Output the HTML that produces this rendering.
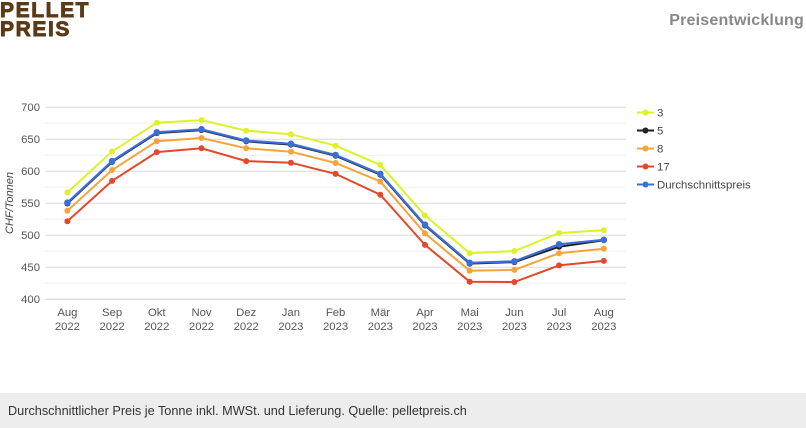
<!DOCTYPE html>
<html><head><meta charset="utf-8"><style>
html,body{margin:0;padding:0;width:806px;height:428px;overflow:hidden;background:#fff;font-family:"Liberation Sans",Arial,sans-serif;}
.logo{position:absolute;left:0;color:#5b3a17;font-weight:bold;font-size:21px;line-height:21px;letter-spacing:1.6px;-webkit-text-stroke:0.9px #5b3a17;}
.title{position:absolute;right:2px;top:12px;color:#888;font-weight:bold;font-size:16px;letter-spacing:0.2px;}
.footer{position:absolute;left:0;top:393px;width:806px;height:35px;background:#ededed;}
.footer span{position:absolute;left:8px;top:11px;font-size:12.7px;color:#333;}
svg{position:absolute;left:0;top:0;}
</style></head><body>
<div class="logo" style="top:-0.5px">PELLET</div>
<div class="logo" style="top:19px">PREIS</div>
<div class="title">Preisentwicklung</div>
<svg width="806" height="393" viewBox="0 0 806 393" font-family="Liberation Sans, Arial, sans-serif">
<g stroke="#efefef" stroke-width="1">
<line x1="45" x2="626" y1="123.3" y2="123.3"/><line x1="45" x2="626" y1="155.3" y2="155.3"/>
<line x1="45" x2="626" y1="187.3" y2="187.3"/><line x1="45" x2="626" y1="219.3" y2="219.3"/>
<line x1="45" x2="626" y1="251.3" y2="251.3"/><line x1="45" x2="626" y1="283.3" y2="283.3"/>
</g>
<g stroke="#dcdcdc" stroke-width="1">
<line x1="45" x2="626" y1="107.3" y2="107.3"/><line x1="45" x2="626" y1="139.3" y2="139.3"/>
<line x1="45" x2="626" y1="171.3" y2="171.3"/><line x1="45" x2="626" y1="203.3" y2="203.3"/>
<line x1="45" x2="626" y1="235.3" y2="235.3"/><line x1="45" x2="626" y1="267.3" y2="267.3"/>
<line x1="45" x2="626" y1="299.3" y2="299.3" stroke="#cfcfcf"/>
</g>
<g font-size="11.3" fill="#555" text-anchor="end">
<text x="40" y="111">700</text><text x="40" y="143">650</text><text x="40" y="175">600</text>
<text x="40" y="207">550</text><text x="40" y="239">500</text><text x="40" y="271">450</text><text x="40" y="303">400</text>
</g>
<text transform="translate(13,203) rotate(-90)" font-size="11" font-style="italic" fill="#444" text-anchor="middle">CHF/Tonnen</text>
<g font-size="11.3" fill="#555" text-anchor="middle">
<text x="67.4" y="316">Aug</text><text x="67.4" y="330">2022</text>
<text x="112.1" y="316">Sep</text><text x="112.1" y="330">2022</text>
<text x="156.8" y="316">Okt</text><text x="156.8" y="330">2022</text>
<text x="201.5" y="316">Nov</text><text x="201.5" y="330">2022</text>
<text x="246.2" y="316">Dez</text><text x="246.2" y="330">2022</text>
<text x="290.9" y="316">Jan</text><text x="290.9" y="330">2023</text>
<text x="335.6" y="316">Feb</text><text x="335.6" y="330">2023</text>
<text x="380.3" y="316">Mär</text><text x="380.3" y="330">2023</text>
<text x="425" y="316">Apr</text><text x="425" y="330">2023</text>
<text x="469.7" y="316">Mai</text><text x="469.7" y="330">2023</text>
<text x="514.4" y="316">Jun</text><text x="514.4" y="330">2023</text>
<text x="559.1" y="316">Jul</text><text x="559.1" y="330">2023</text>
<text x="603.8" y="316">Aug</text><text x="603.8" y="330">2023</text>
</g>
<!-- red 17 -->
<g stroke="#e2492a" fill="#e2492a">
<polyline fill="none" stroke-width="2" points="67.4,221.2 112.1,180.9 156.8,152.1 201.5,148.3 246.2,161.1 290.9,162.7 335.6,173.9 380.3,194.7 425,244.9 469.7,281.7 514.4,282 559.1,265.4 603.8,260.9"/>
<g stroke="none"><circle cx="67.4" cy="221.2" r="3"/><circle cx="112.1" cy="180.9" r="3"/><circle cx="156.8" cy="152.1" r="3"/><circle cx="201.5" cy="148.3" r="3"/><circle cx="246.2" cy="161.1" r="3"/><circle cx="290.9" cy="162.7" r="3"/><circle cx="335.6" cy="173.9" r="3"/><circle cx="380.3" cy="194.7" r="3"/><circle cx="425" cy="244.9" r="3"/><circle cx="469.7" cy="281.7" r="3"/><circle cx="514.4" cy="282" r="3"/><circle cx="559.1" cy="265.4" r="3"/><circle cx="603.8" cy="260.9" r="3"/></g>
</g>
<!-- orange 8 -->
<g stroke="#f5a33c" fill="#f5a33c">
<polyline fill="none" stroke-width="2" points="67.4,210.7 112.1,170 156.8,141.2 201.5,138 246.2,148.3 290.9,151.7 335.6,163 380.3,181.5 425,233.4 469.7,270.7 514.4,269.9 559.1,253.2 603.8,248.7"/>
<g stroke="none"><circle cx="67.4" cy="210.7" r="3"/><circle cx="112.1" cy="170" r="3"/><circle cx="156.8" cy="141.2" r="3"/><circle cx="201.5" cy="138" r="3"/><circle cx="246.2" cy="148.3" r="3"/><circle cx="290.9" cy="151.7" r="3"/><circle cx="335.6" cy="163" r="3"/><circle cx="380.3" cy="181.5" r="3"/><circle cx="425" cy="233.4" r="3"/><circle cx="469.7" cy="270.7" r="3"/><circle cx="514.4" cy="269.9" r="3"/><circle cx="559.1" cy="253.2" r="3"/><circle cx="603.8" cy="248.7" r="3"/></g>
</g>
<!-- yellow 3 -->
<g stroke="#dcf226" fill="#dcf226">
<polyline fill="none" stroke-width="2" points="67.4,192.4 112.1,151.5 156.8,122.7 201.5,120.1 246.2,130.7 290.9,134.2 335.6,145.7 380.3,164.9 425,215.5 469.7,253.2 514.4,251 559.1,233 603.8,230.2"/>
<g stroke="none"><circle cx="67.4" cy="192.4" r="3"/><circle cx="112.1" cy="151.5" r="3"/><circle cx="156.8" cy="122.7" r="3"/><circle cx="201.5" cy="120.1" r="3"/><circle cx="246.2" cy="130.7" r="3"/><circle cx="290.9" cy="134.2" r="3"/><circle cx="335.6" cy="145.7" r="3"/><circle cx="380.3" cy="164.9" r="3"/><circle cx="425" cy="215.5" r="3"/><circle cx="469.7" cy="253.2" r="3"/><circle cx="514.4" cy="251" r="3"/><circle cx="559.1" cy="233" r="3"/><circle cx="603.8" cy="230.2" r="3"/></g>
</g>
<!-- black 5 -->
<g stroke="#222" fill="#222">
<polyline fill="none" stroke-width="2" points="67.4,203.5 112.1,161.9 156.8,133.1 201.5,130.1 246.2,141.4 290.9,144.6 335.6,155.8 380.3,174.7 425,225.5 469.7,263.6 514.4,262.1 559.1,246.8 603.8,240.3"/>
<g stroke="none"><circle cx="67.4" cy="203.5" r="3"/><circle cx="112.1" cy="161.9" r="3"/><circle cx="156.8" cy="133.1" r="3"/><circle cx="201.5" cy="130.1" r="3"/><circle cx="246.2" cy="141.4" r="3"/><circle cx="290.9" cy="144.6" r="3"/><circle cx="335.6" cy="155.8" r="3"/><circle cx="380.3" cy="174.7" r="3"/><circle cx="425" cy="225.5" r="3"/><circle cx="469.7" cy="263.6" r="3"/><circle cx="514.4" cy="262.1" r="3"/><circle cx="559.1" cy="246.8" r="3"/><circle cx="603.8" cy="240.3" r="3"/></g>
</g>
<!-- blue avg -->
<g stroke="#3b6fd6" fill="#3b6fd6">
<polyline fill="none" stroke-width="2.2" points="67.4,202.7 112.1,161.1 156.8,132.3 201.5,129.3 246.2,140.6 290.9,143.8 335.6,155 380.3,173.9 425,224.7 469.7,262.8 514.4,261.3 559.1,244.3 603.8,239.8"/>
<g stroke="none"><circle cx="67.4" cy="202.7" r="3.3"/><circle cx="112.1" cy="161.1" r="3.3"/><circle cx="156.8" cy="132.3" r="3.3"/><circle cx="201.5" cy="129.3" r="3.3"/><circle cx="246.2" cy="140.6" r="3.3"/><circle cx="290.9" cy="143.8" r="3.3"/><circle cx="335.6" cy="155" r="3.3"/><circle cx="380.3" cy="173.9" r="3.3"/><circle cx="425" cy="224.7" r="3.3"/><circle cx="469.7" cy="262.8" r="3.3"/><circle cx="514.4" cy="261.3" r="3.3"/><circle cx="559.1" cy="244.3" r="3.3"/><circle cx="603.8" cy="239.8" r="3.3"/></g>
</g>
<!-- legend -->
<g stroke-width="2">
<line x1="637" x2="654" y1="112.5" y2="112.5" stroke="#dcf226"/><circle cx="645.5" cy="112.5" r="3" fill="#dcf226"/>
<line x1="637" x2="654" y1="130.5" y2="130.5" stroke="#222"/><circle cx="645.5" cy="130.5" r="3" fill="#222"/>
<line x1="637" x2="654" y1="148.5" y2="148.5" stroke="#f5a33c"/><circle cx="645.5" cy="148.5" r="3" fill="#f5a33c"/>
<line x1="637" x2="654" y1="166.5" y2="166.5" stroke="#e2492a"/><circle cx="645.5" cy="166.5" r="3" fill="#e2492a"/>
<line x1="637" x2="654" y1="184.5" y2="184.5" stroke="#3b6fd6"/><circle cx="645.5" cy="184.5" r="3" fill="#3b6fd6"/>
</g>
<g font-size="11.4" fill="#444">
<text x="657" y="116.5">3</text><text x="657" y="134.5">5</text><text x="657" y="152.5">8</text>
<text x="657" y="170.5">17</text><text x="657" y="188.5">Durchschnittspreis</text>
</g>
</svg>
<div class="footer"><span>Durchschnittlicher Preis je Tonne inkl. MWSt. und Lieferung. Quelle: pelletpreis.ch</span></div>
</body></html>
